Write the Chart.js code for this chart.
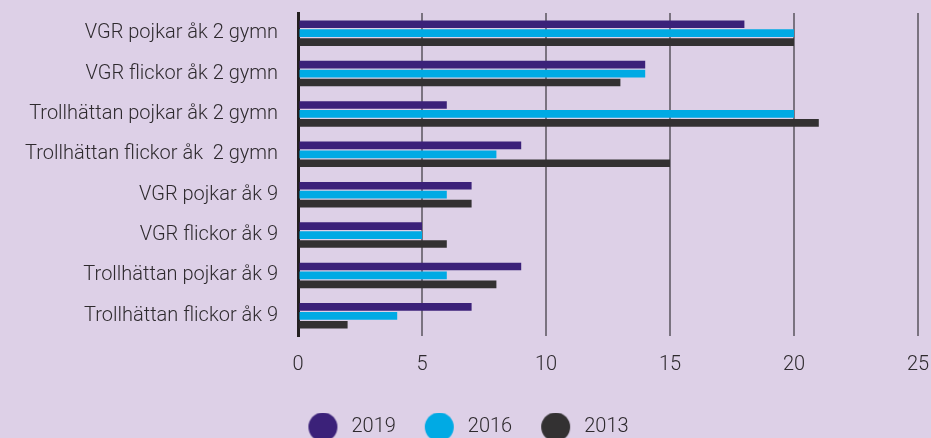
<!DOCTYPE html>
<html>
<head>
<meta charset="utf-8">
<script src="https://cdn.jsdelivr.net/npm/chart.js@4"></script>
<style>
  html, body { margin: 0; padding: 0; background: #ddd0e7; }
  #wrap { width: 931px; height: 438px; }
</style>
</head>
<body>
<div id="wrap"><canvas id="myChart" width="931" height="438"></canvas></div>
<script>
// Categories and values
const categories = [
  'VGR pojkar åk 2 gymn',
  'VGR flickor åk 2 gymn',
  'Trollhättan pojkar åk 2 gymn',
  'Trollhättan flickor åk  2 gymn',
  'VGR pojkar åk 9',
  'VGR flickor åk 9',
  'Trollhättan pojkar åk 9',
  'Trollhättan flickor åk 9'
];
const years = ['2019', '2016', '2013'];
const values2019 = [18, 14, 6, 9, 7, 5, 9, 7];
const values2016 = [20, 14, 20, 8, 6, 5, 6, 4];
const values2013 = [20, 13, 21, 15, 7, 6, 8, 2];
const xTicks = [0, 5, 10, 15, 20, 25];

const colors = ['#3b2179', '#00aae4', '#333132'];
const textColor = '#2e2a2e';
const fontFamily = 'Roboto, "Open Sans", sans-serif';

// legend marker: a round dot with some room on its left,
// so the items get spaced like the original without tall legend rows
function dot(color) {
  const c = document.createElement('canvas');
  c.width = 52; c.height = 29;
  const g = c.getContext('2d');
  g.fillStyle = color;
  g.beginPath();
  g.arc(19 + 14.5, 14.5, 14.5, 0, Math.PI * 2);
  g.fill();
  return c;
}
const dots = colors.map(dot);

const ctx = document.getElementById('myChart');

new Chart(ctx, {
  type: 'bar',
  data: {
    labels: categories,
    datasets: [
      { label: years[0], data: values2019, backgroundColor: colors[0] },
      { label: years[1], data: values2016, backgroundColor: colors[1] },
      { label: years[2], data: values2013, backgroundColor: colors[2] }
    ]
  },
  options: {
    indexAxis: 'y',
    responsive: false,
    animation: false,
    datasets: {
      bar: { categoryPercentage: 0.66, barPercentage: 0.86 }
    },
    // negative bottom padding pushes the legend down; x axis gets the room back
    layout: { padding: { top: 13, right: 13, left: 0, bottom: -9 } },
    scales: {
      x: {
        min: 0,
        max: 25,
        afterBuildTicks: axis => { axis.ticks = xTicks.map(v => ({ value: v })); },
        afterFit: axis => { axis.paddingLeft = 0; axis.paddingRight = 0; axis.height = 71; },
        grid: {
          color: c => c.index === 0 ? '#231f20' : '#7a7380',
          lineWidth: c => c.index === 0 ? 3 : 2,
          drawTicks: false
        },
        border: { display: false },
        ticks: {
          color: textColor,
          padding: 17,
          maxRotation: 0,
          font: { family: fontFamily, size: 20, weight: 300 }
        }
      },
      y: {
        grid: { display: false, drawTicks: false },
        border: { color: '#231f20', width: 3 },
        afterFit: axis => { axis.width = 298; axis.paddingTop = 0; axis.paddingBottom = 0; },
        ticks: {
          color: textColor,
          padding: 20,
          font: { family: fontFamily, size: 20, weight: 300 }
        }
      }
    },
    plugins: {
      legend: {
        position: 'bottom',
        labels: {
          usePointStyle: true,
          pointStyleWidth: 52,
          padding: 10,
          color: textColor,
          font: { family: fontFamily, size: 20, weight: 300 },
          generateLabels: chart => chart.data.datasets.map((ds, i) => ({
            text: ds.label,
            fillStyle: colors[i],
            strokeStyle: colors[i],
            lineWidth: 0,
            pointStyle: dots[i],
            fontColor: textColor,
            datasetIndex: i,
            hidden: false
          }))
        }
      },
      tooltip: { enabled: false }
    }
  }
});
</script>
</body>
</html>
